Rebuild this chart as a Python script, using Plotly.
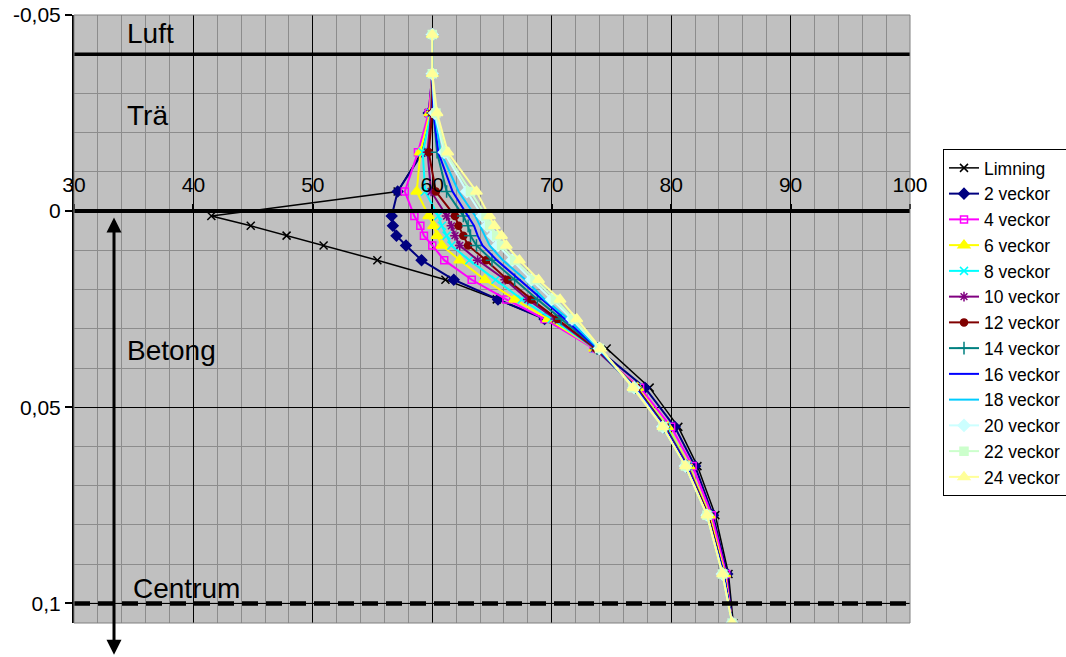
import plotly.graph_objects as go

# Depth (m) of each measuring point; negative = in the wood, positive = in the concrete
DEPTH = [-0.045, -0.035, -0.025, -0.015, -0.005,
         0.00125, 0.00375, 0.00625, 0.00875, 0.0125, 0.0175, 0.0225, 0.0275,
         0.035, 0.045, 0.055, 0.065, 0.0775, 0.0925, 0.105]

SERIES_NAMES = ["Limning", "2 veckor", "4 veckor", "6 veckor", "8 veckor", "10 veckor",
                "12 veckor", "14 veckor", "16 veckor", "18 veckor", "20 veckor",
                "22 veckor", "24 veckor"]

limning   = [60.0, 60.0, 59.7, 59.1, 57.1, 41.5, 44.8, 47.8, 50.9, 55.4, 61.1, 65.4, 69.5, 74.6, 78.2, 80.6, 82.2, 83.7, 84.8, 85.2]
veckor_2  = [60.0, 60.0, 59.7, 59.2, 57.1, 56.6, 56.7, 57.0, 57.8, 59.1, 61.8, 65.5, 69.4, 73.8, 77.8, 80.3, 82.0, 83.5, 84.7, 85.1]
veckor_4  = [60.0, 60.0, 59.7, 58.8, 57.7, 58.5, 59.0, 59.3, 60.0, 61.0, 63.3, 66.2, 69.4, 73.5, 77.4, 80.0, 81.8, 83.4, 84.6, 85.1]
veckor_6  = [60.0, 60.0, 59.8, 59.0, 58.7, 59.7, 60.1, 60.4, 60.8, 62.3, 64.4, 66.9, 69.7, 73.6, 77.2, 79.7, 81.5, 83.2, 84.5, 85.1]
veckor_8  = [60.0, 60.0, 59.9, 59.2, 59.4, 60.5, 60.8, 61.2, 61.6, 63.1, 65.3, 67.5, 70.0, 73.6, 77.1, 79.6, 81.4, 83.1, 84.4, 85.1]
veckor_10 = [60.0, 60.0, 59.9, 59.6, 59.9, 61.2, 61.6, 61.9, 62.3, 63.8, 66.1, 68.0, 70.3, 73.6, 77.1, 79.5, 81.4, 83.1, 84.4, 85.1]
veckor_12 = [60.0, 60.0, 60.0, 59.7, 60.3, 61.9, 62.2, 62.6, 63.0, 64.5, 66.3, 68.3, 70.5, 73.7, 77.1, 79.5, 81.3, 83.1, 84.4, 85.1]
veckor_14 = [60.0, 60.0, 60.1, 60.4, 61.2, 62.6, 63.0, 63.2, 63.7, 65.0, 66.9, 68.8, 70.8, 73.8, 77.0, 79.4, 81.3, 83.0, 84.4, 85.1]
veckor_16 = [60.0, 60.0, 60.1, 60.5, 61.7, 63.0, 63.5, 63.8, 64.2, 65.4, 67.3, 69.2, 71.1, 73.8, 77.0, 79.4, 81.3, 83.0, 84.4, 85.1]
veckor_18 = [60.0, 60.0, 60.2, 60.7, 62.2, 63.6, 64.0, 64.4, 64.8, 65.9, 67.8, 69.4, 71.4, 73.9, 76.9, 79.3, 81.2, 83.0, 84.3, 85.1]
veckor_20 = [60.0, 60.0, 60.2, 61.0, 62.9, 64.2, 64.6, 65.1, 65.5, 66.7, 68.3, 70.0, 71.7, 74.0, 76.9, 79.3, 81.2, 83.0, 84.3, 85.1]
veckor_22 = [60.0, 60.0, 60.3, 61.1, 63.2, 64.5, 64.8, 65.4, 65.8, 66.9, 68.6, 70.3, 71.8, 74.0, 76.8, 79.3, 81.2, 83.0, 84.3, 85.1]
veckor_24 = [60.0, 60.0, 60.4, 61.3, 63.7, 64.8, 65.2, 65.8, 66.2, 67.3, 68.9, 70.7, 72.1, 74.1, 76.8, 79.3, 81.2, 83.0, 84.3, 85.1]

X_TICKS = [30, 40, 50, 60, 70, 80, 90, 100]
Y_TICKS = [-0.05, 0, 0.05, 0.1]
Y_TICK_LABELS = ["-0,05", "0", "0,05", "0,1"]

# Boundary levels
LUFT_LEVEL = -0.04
SURFACE_LEVEL = 0.0
CENTRUM_LEVEL = 0.1

VALUES = [limning, veckor_2, veckor_4, veckor_6, veckor_8, veckor_10, veckor_12,
          veckor_14, veckor_16, veckor_18, veckor_20, veckor_22, veckor_24]

STYLES = [
    dict(color="#000000", symbol="x-thin-open", size=8, lw=1.5),
    dict(color="#000080", symbol="diamond", size=8, lw=2),
    dict(color="#FF00FF", symbol="square-open", size=7, lw=2),
    dict(color="#FFFF00", symbol="triangle-up", size=10, lw=2),
    dict(color="#00FFFF", symbol="x-thin-open", size=8, lw=2),
    dict(color="#800080", symbol="asterisk-open", size=8, lw=2),
    dict(color="#800000", symbol="circle", size=7, lw=2),
    dict(color="#008080", symbol="cross-thin-open", size=9, lw=2),
    dict(color="#0000FF", symbol=None, size=0, lw=2),
    dict(color="#00CCFF", symbol=None, size=0, lw=2),
    dict(color="#CCFFFF", symbol="diamond", size=9, lw=2),
    dict(color="#CCFFCC", symbol="square", size=8, lw=2),
    dict(color="#FFFF99", symbol="triangle-up", size=10, lw=2),
]

FONT = "Liberation Sans, Arial, sans-serif"

fig = go.Figure()
for i, (name, vals, st) in enumerate(zip(SERIES_NAMES, VALUES, STYLES)):
    if st["symbol"] is None:
        mode = "lines"
        marker = None
    else:
        mode = "lines+markers"
        marker = dict(symbol=st["symbol"], size=st["size"], color=st["color"],
                      line=dict(color=st["color"], width=1.5))
    fig.add_trace(go.Scatter(
        x=vals, y=DEPTH, name=name, mode=mode, marker=marker,
        line=dict(color=st["color"], width=st["lw"]),
    ))

shapes = [
    dict(type="line", xref="paper", yref="y", x0=0, x1=1, y0=LUFT_LEVEL, y1=LUFT_LEVEL,
         line=dict(color="black", width=3.5)),
    dict(type="line", xref="paper", yref="y", x0=0, x1=1, y0=CENTRUM_LEVEL, y1=CENTRUM_LEVEL,
         line=dict(color="black", width=1)),
    dict(type="line", xref="paper", yref="y", x0=0, x1=1, y0=CENTRUM_LEVEL, y1=CENTRUM_LEVEL,
         line=dict(color="black", width=4.5, dash="16px,8px")),
    dict(type="rect", xref="paper", yref="paper", x0=0, x1=1, y0=0, y1=1,
         line=dict(color="#808080", width=1)),
]

LABEL_FONT = dict(family=FONT, size=28, color="black")
annotations = [
    dict(x=34.3, y=-0.0453, xref="x", yref="y", text="Luft", showarrow=False,
         xanchor="left", yanchor="middle", font=LABEL_FONT),
    dict(x=34.3, y=-0.0245, xref="x", yref="y", text="Trä", showarrow=False,
         xanchor="left", yanchor="middle", font=LABEL_FONT),
    dict(x=34.3, y=0.0355, xref="x", yref="y", text="Betong", showarrow=False,
         xanchor="left", yanchor="middle", font=LABEL_FONT),
    dict(x=34.8, y=0.0962, xref="x", yref="y", text="Centrum", showarrow=False,
         xanchor="left", yanchor="middle", font=LABEL_FONT),
    # double arrow
    dict(x=33.35, y=0.0016, ax=33.35, ay=0.1135, xref="x", yref="y", axref="x", ayref="y",
         text="", showarrow=True, arrowhead=2, startarrowhead=2, arrowside="end+start",
         arrowwidth=3, arrowsize=1, arrowcolor="black"),
]

fig.update_layout(
    width=1066, height=657,
    margin=dict(l=74, r=156, t=15, b=34, autoexpand=False),
    paper_bgcolor="white", plot_bgcolor="#C0C0C0",
    font=dict(family=FONT, size=21, color="black"),
    shapes=shapes, annotations=annotations,
    showlegend=True,
    legend=dict(x=(943 - 74) / 836, y=(623 - 149) / 608,
                xanchor="left", yanchor="top",
                bordercolor="black", borderwidth=1, bgcolor="white",
                font=dict(family=FONT, size=17.5, color="black"),
                itemwidth=30),
)

fig.update_xaxes(
    range=[30, 100], tickvals=X_TICKS, ticktext=[str(v) for v in X_TICKS],
    anchor="free", position=0.6776, side="top", automargin=False,
    showline=True, linecolor="black", linewidth=4,
    ticks="outside", ticklen=5, tickcolor="black", tickwidth=2,
    ticklabelstandoff=4,
    showgrid=True, gridcolor="black", gridwidth=1, zeroline=False,
    minor=dict(dtick=2, tick0=30, showgrid=True, gridcolor="#8C8C8C", gridwidth=1),
    tickfont=dict(family=FONT, size=21, color="black"),
)
fig.update_yaxes(
    range=[0.105, -0.05], tickvals=Y_TICKS, ticktext=Y_TICK_LABELS, automargin=False,
    showline=True, linecolor="black", linewidth=2,
    ticks="outside", ticklen=7, tickcolor="black", tickwidth=1.5,
    showgrid=True, gridcolor="black", gridwidth=1, zeroline=False,
    minor=dict(dtick=0.01, tick0=0, showgrid=True, gridcolor="#8C8C8C", gridwidth=1),
    tickfont=dict(family=FONT, size=21, color="black"),
)

fig.write_html("out.html", config={"displayModeBar": False},
               post_script="document.body.style.margin='0';")
